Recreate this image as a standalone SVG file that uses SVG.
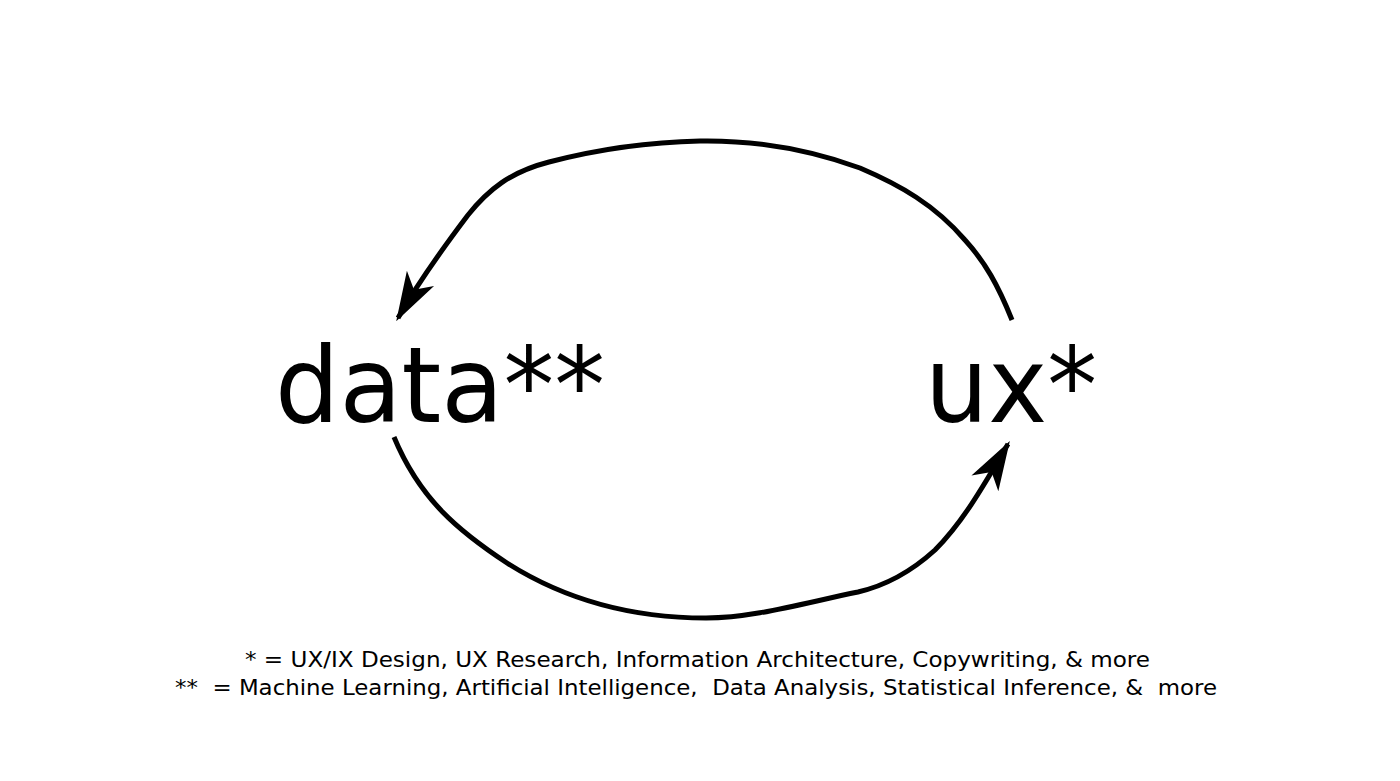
<svg xmlns="http://www.w3.org/2000/svg" width="1400" height="781" viewBox="0 0 1400 781">
<style>
.big{font-family:"DejaVu Sans","Noto Sans",sans-serif;font-size:106px;fill:#000}
.note{font-family:"DejaVu Sans","Noto Sans",sans-serif;font-size:21px;fill:#000}
.conn{fill:none;stroke:#000;stroke-width:5;stroke-linecap:butt;stroke-linejoin:round}
</style>
<defs>
<marker id="ah" markerUnits="userSpaceOnUse" markerWidth="60" markerHeight="60" refX="0" refY="0" viewBox="-45 -25 50 50" orient="auto" overflow="visible">
<path d="M3,0 L-38,-13 L-27,0 L-38,13 Z" fill="#000"/>
</marker>
</defs>
<rect width="1400" height="781" fill="#fff"/>
<g id="connectors">
<path class="conn" d="M1012,320 C998,285 985,262 965,240 C935,205 900,185 860,168 C810,150 760,140 700,141 C650,142 595,150 549,162 C510,172 488,190 468,215 C440,252 415,288 398,318" marker-end="url(#ah)"/>
<path class="conn" d="M394,437 C420,500 460,532 507,563 C570,603 640,618 706,618 C752,618 800,604 858,592 C888,585 913,570 935,550 C965,520 988,478 1008,444" marker-end="url(#ah)"/>
</g>
<g id="node-data">
<text class="big" x="275" y="422" textLength="330" lengthAdjust="spacingAndGlyphs">data**</text>
</g>
<g id="node-ux">
<text class="big" x="925" y="422" textLength="172" lengthAdjust="spacingAndGlyphs">ux*</text>
</g>
<g id="legend">
<text class="note" x="245" y="667" textLength="905" lengthAdjust="spacingAndGlyphs">* = UX/IX Design, UX Research, Information Architecture, Copywriting, &amp; more</text>
<text class="note" x="175" y="695" textLength="1042" lengthAdjust="spacingAndGlyphs" xml:space="preserve">**  = Machine Learning, Artificial Intelligence,  Data Analysis, Statistical Inference, &amp;  more</text>
</g>
</svg>
